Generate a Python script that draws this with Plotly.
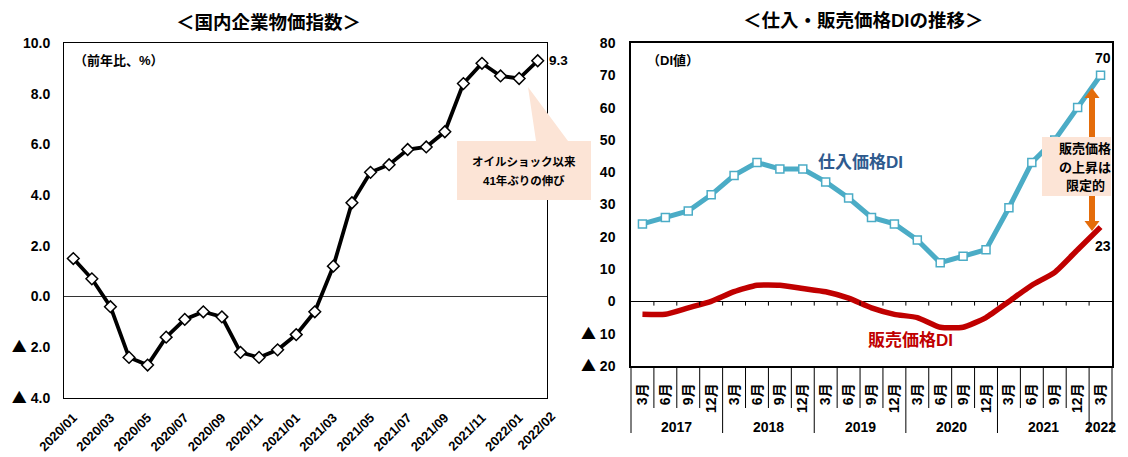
import plotly.graph_objects as go

W, H = 1128, 457

# ---------------- data: left chart (国内企業物価指数, 前年比 %) ----------------
cgpi_months = [
    "2020/01", "2020/02", "2020/03", "2020/04", "2020/05", "2020/06",
    "2020/07", "2020/08", "2020/09", "2020/10", "2020/11", "2020/12",
    "2021/01", "2021/02", "2021/03", "2021/04", "2021/05", "2021/06",
    "2021/07", "2021/08", "2021/09", "2021/10", "2021/11", "2021/12",
    "2022/01", "2022/02",
]
cgpi_yoy = [
    1.5, 0.7, -0.4, -2.4, -2.7, -1.6,
    -0.9, -0.6, -0.8, -2.2, -2.4, -2.1,
    -1.5, -0.6, 1.2, 3.7, 4.9, 5.2,
    5.8, 5.9, 6.5, 8.4, 9.2, 8.7,
    8.6, 9.3,
]
cgpi_yticks = [-4, -2, 0, 2, 4, 6, 8, 10]
cgpi_yticktext = ["▲ 4.0", "▲ 2.0", "0.0", "2.0", "4.0", "6.0", "8.0", "10.0"]

# ---------------- data: right chart (仕入・販売価格DI) ----------------
di_months = ["3月", "6月", "9月", "12月"] * 5 + ["3月"]
di_years = ["2017"] * 4 + ["2018"] * 4 + ["2019"] * 4 + ["2020"] * 4 + ["2021"] * 4 + ["2022"]
input_price_di = [24, 26, 28, 33, 39, 43, 41, 41, 37, 32, 26, 24, 19, 12, 14, 16, 29, 43, 50, 60, 70]
output_price_di = [-4, -4, -2, 0, 3, 5, 5, 4, 3, 1, -2, -4, -5, -8, -8, -5, 0, 5, 9, 16, 23]
di_yticks = [-20, -10, 0, 10, 20, 30, 40, 50, 60, 70, 80]
di_yticktext = ["▲ 20", "▲ 10", "0", "10", "20", "30", "40", "50", "60", "70", "80"]

FONT = "Liberation Sans, Noto Sans CJK JP, sans-serif"
PEACH = "#FCE4D6"
ORANGE = "#E46C0A"
BLUE = "#4BACC6"
RED = "#C00000"
TRI = '<span style="font-family:Noto Sans CJK JP;font-size:15px">▲</span>'


def fx(px):
    return px / W


def fy(py):
    return 1 - py / H


def tri(label):
    return label.replace("▲", TRI)


fig = go.Figure()

xi = list(range(len(cgpi_months)))
fig.add_trace(go.Scatter(
    x=xi, y=cgpi_yoy, mode="lines+markers",
    line=dict(color="black", width=3.8),
    marker=dict(symbol="diamond", size=9, color="white", line=dict(color="black", width=1.5)),
    xaxis="x", yaxis="y", showlegend=False, hoverinfo="skip",
))

qi = list(range(len(di_months)))
fig.add_trace(go.Scatter(
    x=qi, y=output_price_di, mode="lines",
    line=dict(color=RED, width=5.5, shape="spline", smoothing=0.5),
    xaxis="x2", yaxis="y2", showlegend=False, hoverinfo="skip",
))
fig.add_trace(go.Scatter(
    x=qi, y=input_price_di, mode="lines+markers",
    line=dict(color=BLUE, width=5),
    marker=dict(symbol="square", size=8, color="white", line=dict(color=BLUE, width=1.5)),
    xaxis="x2", yaxis="y2", showlegend=False, hoverinfo="skip",
))

tick_idx = list(range(0, len(cgpi_months) - 1, 2))
axis_common = dict(showgrid=False, showline=True, mirror=True, linecolor="black", ticks="",
                   automargin=False)

X1 = (fx(64), fx(547))
fig.update_layout(
    template="none",
    width=W, height=H, autosize=False,
    margin=dict(l=0, r=0, t=0, b=0, pad=0),
    paper_bgcolor="white", plot_bgcolor="white",
    font=dict(family=FONT, color="black", size=13),
    xaxis=dict(
        domain=list(X1), range=[-0.5, len(cgpi_months) - 0.5], anchor="y",
        tickvals=tick_idx, ticktext=[cgpi_months[i] for i in tick_idx],
        tickangle=-45, zeroline=False, linewidth=1,
        tickfont=dict(size=13, weight="bold"), ticklabelstandoff=6, **axis_common,
    ),
    yaxis=dict(
        domain=[fy(398), fy(43)], range=[-4, 10], anchor="x",
        tickvals=cgpi_yticks, ticktext=[tri(t) for t in cgpi_yticktext],
        zeroline=True, zerolinecolor="#333", zerolinewidth=1, linewidth=1,
        tickfont=dict(size=14, weight="bold"), ticklabelstandoff=10, **axis_common,
    ),
    xaxis2=dict(
        domain=[fx(631), fx(1112)], range=[-0.5, len(di_months) - 0.5], anchor="y2",
        tickvals=qi, ticktext=di_months, tickangle=-90, zeroline=False, linewidth=1.5,
        tickfont=dict(size=14, weight="bold"), ticklabelstandoff=10, **axis_common,
    ),
    yaxis2=dict(
        domain=[fy(366), fy(43)], range=[-20, 80], anchor="x2",
        tickvals=di_yticks, ticktext=[tri(t) for t in di_yticktext],
        zeroline=True, zerolinecolor="black", zerolinewidth=1, linewidth=1.5,
        tickfont=dict(size=14, weight="bold"), ticklabelstandoff=11, **axis_common,
    ),
)

shapes = []
# small tick marks hanging from the zero line of the DI chart (category boundaries)
for k in range(1, len(di_months)):
    shapes.append(dict(type="line", xref="x2", yref="y2", x0=k - 0.5, x1=k - 0.5, y0=0, y1=-1.3,
                       line=dict(color="black", width=1)))
# category separators below the DI chart (month row, and year groups)
n = len(di_months)
for k in range(n + 1):
    is_year_edge = k == 0 or k == n or di_years[k] != di_years[k - 1]
    shapes.append(dict(type="line", xref="x2 domain", yref="paper", x0=k / n, x1=k / n,
                       y0=fy(366), y1=fy(433 if is_year_edge else 408),
                       line=dict(color="black", width=1)))

# left callout (speech bubble)
bubble = [(457, 141), (536, 141), (528, 87), (568, 141), (591, 141), (591, 200), (457, 200)]
path = "M " + " L ".join(f"{fx(a):.5f},{fy(b):.5f}" for a, b in bubble) + " Z"
shapes.append(dict(type="path", xref="paper", yref="paper", path=path,
                   fillcolor=PEACH, line=dict(width=0), layer="above"))

# orange double arrow
ax_px = 1092
shapes.append(dict(type="line", xref="paper", yref="paper", x0=fx(ax_px), x1=fx(ax_px),
                   y0=fy(96), y1=fy(223), line=dict(color=ORANGE, width=6), layer="above"))
for tip, base in ((88, 98), (231, 221)):
    trip = f"M {fx(ax_px - 7.5):.5f},{fy(base):.5f} L {fx(ax_px + 7.5):.5f},{fy(base):.5f} L {fx(ax_px):.5f},{fy(tip):.5f} Z"
    shapes.append(dict(type="path", xref="paper", yref="paper", path=trip,
                       fillcolor=ORANGE, line=dict(width=0), layer="above"))
# right callout box
shapes.append(dict(type="rect", xref="paper", yref="paper", x0=fx(1042), x1=fx(1111),
                   y0=fy(137), y1=fy(196), fillcolor=PEACH, line=dict(width=0), layer="above"))
fig.update_layout(shapes=shapes)

ann = []


def txt(x, y, text, size=13, color="black", xanchor="center", yanchor="middle", **kw):
    ann.append(dict(x=x, y=y, text=text, showarrow=False, xanchor=xanchor, yanchor=yanchor,
                    font=dict(size=size, color=color, family=FONT, weight="bold"), **kw))


# titles
txt(fx(268), fy(22), "＜国内企業物価指数＞", size=18.5, xref="paper", yref="paper")
txt(fx(863), fy(21), "＜仕入・販売価格DIの推移＞", size=18.5, xref="paper", yref="paper")
# unit labels
txt(fx(72), fy(60), "（前年比、%）", size=13, xanchor="left", xref="paper", yref="paper")
txt(fx(645), fy(61), "（DI値）", size=13, xanchor="left", xref="paper", yref="paper")
# extra x tick label at the end of the left axis (one step past the last category)
last_pos = X1[0] + (len(cgpi_months) + 0.5) / len(cgpi_months) * (X1[1] - X1[0])
txt(last_pos, fy(406), cgpi_months[-1], size=13, xanchor="right", yanchor="top",
    xref="paper", yref="paper", textangle=-45, xshift=5)
# data labels
txt(xi[-1], cgpi_yoy[-1], f"{cgpi_yoy[-1]:.1f}", size=13.5, xanchor="left", xref="x", yref="y", xshift=9)
txt(qi[-1], input_price_di[-1], str(input_price_di[-1]), size=14, yanchor="bottom",
    xref="x2", yref="y2", yshift=7, xshift=2)
txt(qi[-1], output_price_di[-1], str(output_price_di[-1]), size=14, yanchor="top",
    xref="x2", yref="y2", yshift=-9, xshift=2)
# series labels
txt(fx(860), fy(162), "仕入価格DI", size=17, color="#2E5A8E", xref="paper", yref="paper")
txt(fx(910), fy(340), "販売価格DI", size=17, color=RED, xref="paper", yref="paper")
# callout texts
txt(fx(524), fy(161), "オイルショック以来", size=11.5, xref="paper", yref="paper")
txt(fx(524), fy(180), "41年ぶりの伸び", size=11.5, xref="paper", yref="paper")
for yy, line in zip((148, 167, 185), ("販売価格", "の上昇は", "限定的")):
    txt(fx(1085), fy(yy), line, size=13, xref="paper", yref="paper")
# year labels under the DI chart
groups = []
for i, y in enumerate(di_years):
    if groups and groups[-1][0] == y:
        groups[-1][1].append(i)
    else:
        groups.append((y, [i]))
for y, idxs in groups:
    txt(sum(idxs) / len(idxs), fy(427), y, size=14, xref="x2", yref="paper")

fig.update_layout(annotations=ann)

fig.write_html("out.html", config={"displayModeBar": False},
               post_script="document.body.style.margin='0';")
